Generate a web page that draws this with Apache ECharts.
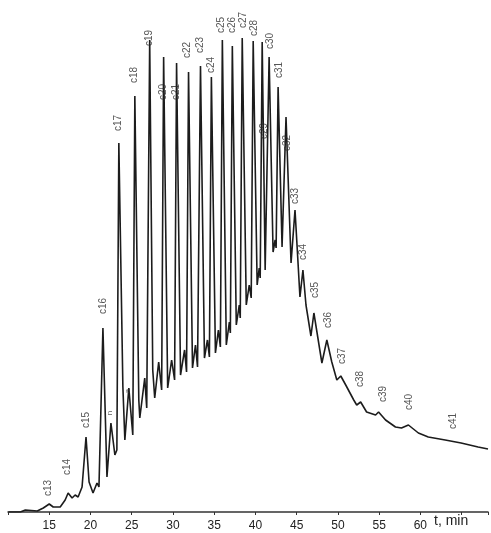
<!DOCTYPE html>
<html><head><meta charset="utf-8">
<script src="https://cdn.jsdelivr.net/npm/echarts@6/dist/echarts.min.js"></script>
<style>html,body{margin:0;padding:0;background:#fff}#c{width:491px;height:533px}</style>
</head><body><div id="c"></div>
<script>
// Chromatogram trace: retention time (min) and detector response (arb. units)
const traceTimes = [10.05,11.5,12.1,13.55,14.28,15.0,15.48,16.33,16.93,17.29,17.77,18.14,18.5,18.98,19.46,19.83,20.31,20.79,21.03,21.51,22.0,22.48,22.96,23.2,23.44,23.93,24.17,24.65,25.13,25.38,25.86,25.98,26.58,26.82,27.18,27.55,27.79,28.27,28.63,28.87,29.36,29.84,30.2,30.44,30.92,31.41,31.65,31.89,32.37,32.73,32.98,33.34,33.82,34.18,34.42,34.66,35.15,35.51,35.75,35.99,36.47,36.84,36.96,37.2,37.68,38.04,38.16,38.4,38.89,39.25,39.49,39.73,40.21,40.46,40.58,40.82,41.18,41.66,42.14,42.39,42.51,42.75,43.23,43.71,44.32,44.8,45.16,45.4,45.76,46.13,46.73,47.09,48.06,48.66,49.26,49.87,50.35,50.95,51.92,52.28,52.76,53.48,54.57,54.93,55.78,56.98,57.71,58.55,59.76,60.96,63.01,64.94,67.0,68.2];
const traceValues = [0,0,2,1,4,8,5,5,12,19,14,17,15,25,75,30,19,29,25,184,35,89,57,62,369,125,72,124,77,416,112,94,134,104,472,142,114,150,122,455,124,152,132,449,137,162,140,440,144,167,145,446,154,172,155,435,159,182,165,472,167,190,179,466,187,207,194,474,207,227,214,471,227,244,234,470,242,455,260,272,264,425,265,395,249,302,250,215,242,207,176,199,149,172,150,132,136,127,112,107,110,100,97,100,92,85,84,87,79,75,72,69,65,63];

// Peak labels (n-alkanes) and where they sit in data space
const peakNames = ['c13','c14','c15','c16','c17','c18','c19','c20','c21','c22','c23','c24','c25','c26','c27','c28','c29','c30','c31','c32','c33','c34','c35','c36','c37','c38','c39','c40','c41'];
const peakLabelTimes = [14.88,17.17,19.46,21.51,23.32,25.25,27.18,28.87,30.44,31.77,33.34,34.66,35.87,37.2,38.52,39.85,41.06,41.78,42.87,43.83,44.8,45.76,47.21,48.78,50.47,52.76,55.53,58.67,63.98];
const peakLabelValues = [24,45,92,206,389,437,474,420,420,462,467,447,487,487,492,484,381,471,442,369,316,260,222,192,156,133,118,110,91];

// Minor marks near pristane / phytane
const minorNames = ['n','a'];
const minorTimes = [22.36,24.53];
const minorValues = [99,121];

const tickLabels = [15,20,25,30,35,40,45,50,55,60];
const axisName = 't, min';

const chart = echarts.init(document.getElementById('c'), null, {renderer:'canvas'});
const trace = traceTimes.map((t,i)=>[t, traceValues[i]]);
const labels = peakNames.map((n,i)=>({value:[peakLabelTimes[i], peakLabelValues[i]], name:n}));
const minors = minorNames.map((n,i)=>({value:[minorTimes[i], minorValues[i]], name:n}));

chart.setOption({
  backgroundColor:'#fff',
  animation:false,
  grid:{left:8, right:0, top:12, bottom:21},
  xAxis:{
    type:'value', min:10, max:68.2, interval:5,
    axisLine:{show:true, lineStyle:{color:'#333', width:1.5}},
    axisTick:{show:true, length:3, lineStyle:{color:'#333'}},
    axisLabel:{
      margin:8, fontSize:12, color:'#222', fontFamily:'Liberation Sans',
      formatter:v=> tickLabels.indexOf(v)>=0 ? String(v) : ''
    },
    splitLine:{show:false}
  },
  yAxis:{type:'value', min:0, max:500, show:false, splitLine:{show:false}},
  graphic:[{
    type:'text', left:434, top:514,
    style:{text:axisName, fontSize:14, fill:'#222', fontFamily:'Liberation Sans'}
  }],
  series:[
    {type:'line', data:trace, symbol:'none', smooth:false,
     lineStyle:{color:'#1c1c1c', width:1.6}, z:2},
    {type:'scatter', data:labels, symbolSize:0, z:3,
     label:{show:true, position:'inside', rotate:90, formatter:p=>p.name,
            fontSize:10, color:'#2a2a2a', fontFamily:'Liberation Sans'}},
    {type:'scatter', data:minors, symbolSize:0, z:3,
     label:{show:true, position:'inside', rotate:90, formatter:p=>p.name,
            fontSize:8, color:'#333', fontFamily:'Liberation Sans'}}
  ]
});
</script></body></html>
